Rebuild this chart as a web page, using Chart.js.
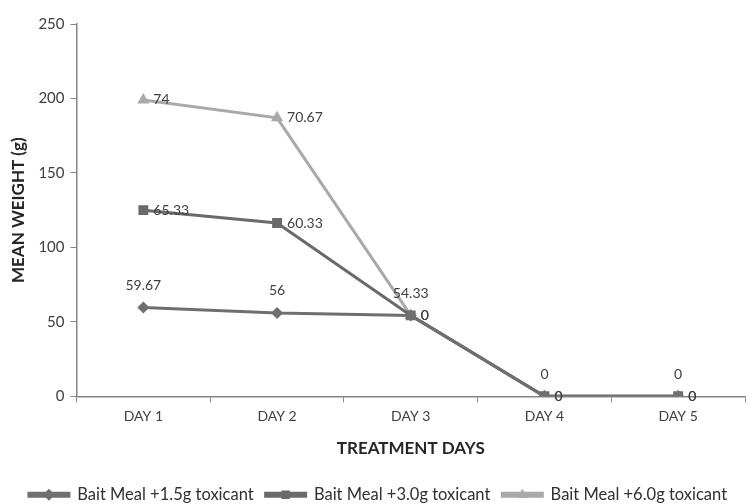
<!DOCTYPE html>
<html>
<head>
<meta charset="utf-8">
<script src="https://cdn.jsdelivr.net/npm/chart.js@4.4.1/dist/chart.umd.min.js"></script>
<style>
    html, body { margin: 0; padding: 0; background: #ffffff; }
    #wrap { width: 752px; height: 504px; }
</style>
</head>
<body>
<div id="wrap"><canvas id="weightChart"></canvas></div>
<script>
// Mean weight per treatment day (stacked line chart)
const days = ['DAY 1', 'DAY 2', 'DAY 3', 'DAY 4', 'DAY 5'];
const seriesNames = ['Bait Meal +1.5g toxicant', 'Bait Meal +3.0g toxicant', 'Bait Meal +6.0g toxicant'];
const bait15 = [59.67, 56, 54.33, 0, 0];
const bait30 = [65.33, 60.33, 0, 0, 0];
const bait60 = [74, 70.67, 0, 0, 0];
const yTicks = [0, 50, 100, 150, 200, 250];

const FONT = 'Lato';
const colors = ['#6f6f6f', '#6a6a6a', '#a9a9a9'];
const markers = ['rectRot', 'rect', 'triangle'];
const labelPos = ['top', 'right', 'right'];

// draws value labels next to each point
const valueLabels = {
    id: 'valueLabels',
    afterDatasetsDraw(chart) {
        const ctx = chart.ctx;
        ctx.save();
        ctx.font = '14px ' + FONT;
        ctx.fillStyle = '#404040';
        chart.data.datasets.forEach((ds, i) => {
            const meta = chart.getDatasetMeta(i);
            meta.data.forEach((pt, j) => {
                const txt = String(ds.data[j]);
                if (labelPos[i] === 'top') {
                    ctx.textAlign = 'center';
                    ctx.textBaseline = 'bottom';
                    ctx.fillText(txt, pt.x, pt.y - 15);
                } else {
                    ctx.textAlign = 'left';
                    ctx.textBaseline = 'middle';
                    ctx.fillText(txt, pt.x + 10, pt.y);
                }
            });
        });
        ctx.restore();
    }
};

// puts the marker on top of the line in each legend entry
const legendMarkers = {
    id: 'legendMarkers',
    afterDraw(chart) {
        const legend = chart.legend;
        if (!legend || !legend.legendHitBoxes) return;
        const ctx = chart.ctx;
        legend.legendHitBoxes.forEach((box, i) => {
            const cx = box.left + 20;
            const cy = box.top + box.height / 2;
            ctx.save();
            ctx.fillStyle = colors[i];
            ctx.strokeStyle = colors[i];
            Chart.helpers.drawPoint(ctx, {
                pointStyle: markers[i],
                radius: 6,
                borderWidth: 0,
                rotation: 0
            }, cx, cy);
            ctx.restore();
        });
    }
};

const makeSet = (label, data, i) => ({
    label: label,
    data: data,
    borderColor: colors[i],
    backgroundColor: colors[i],
    borderWidth: 3,
    pointStyle: markers[i],
    pointRadius: i === 0 ? 6 : 7,
    pointBorderWidth: 0,
    pointBackgroundColor: colors[i],
    fill: false,
    tension: 0
});

new Chart(document.getElementById('weightChart'), {
    type: 'line',
    data: {
        labels: days,
        datasets: [
            makeSet(seriesNames[0], bait15, 0),
            makeSet(seriesNames[1], bait30, 1),
            makeSet(seriesNames[2], bait60, 2)
        ]
    },
    options: {
        responsive: true,
        maintainAspectRatio: false,
        animation: false,
        layout: {
            padding: { top: 24, right: 0, left: 4, bottom: -9 }
        },
        plugins: {
            legend: {
                position: 'bottom',
                labels: {
                    boxWidth: 40,
                    boxHeight: 3,
                    color: '#303030',
                    font: { family: FONT, size: 16.5 },
                    padding: 12
                }
            },
            tooltip: { enabled: false }
        },
        scales: {
            y: {
                stacked: true,
                min: 0,
                max: 250,
                afterBuildTicks: axis => {
                    axis.ticks = yTicks.map(v => ({ value: v }));
                },
                border: { color: '#868686', width: 1.5 },
                grid: { display: true, drawOnChartArea: false, tickLength: 6, color: '#868686' },
                ticks: {
                    color: '#404040',
                    font: { family: FONT, size: 15 },
                    padding: 6
                },
                title: {
                    display: true,
                    text: 'MEAN WEIGHT (g)',
                    color: '#262626',
                    font: { family: FONT, size: 17, weight: 'bold' },
                    padding: { bottom: 4 }
                }
            },
            x: {
                offset: true,
                border: { color: '#868686', width: 1.5 },
                grid: { display: true, drawOnChartArea: false, tickLength: 6, color: '#868686', offset: true },
                ticks: {
                    color: '#404040',
                    font: { family: FONT, size: 14 },
                    padding: 6
                },
                title: {
                    display: true,
                    text: 'TREATMENT DAYS',
                    color: '#262626',
                    font: { family: FONT, size: 17, weight: 'bold' },
                    padding: { top: 7, bottom: 16 }
                }
            }
        }
    },
    plugins: [valueLabels, legendMarkers]
});
</script>
</body>
</html>
